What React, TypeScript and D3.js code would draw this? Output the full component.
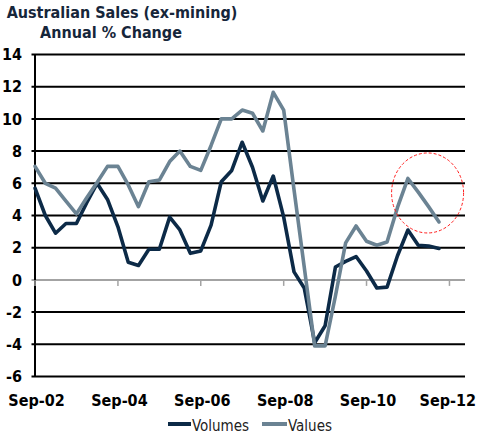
import React from "react";
import * as d3 from "d3";

const quarters = [
  "Sep-02","Dec-02","Mar-03","Jun-03","Sep-03","Dec-03","Mar-04","Jun-04",
  "Sep-04","Dec-04","Mar-05","Jun-05","Sep-05","Dec-05","Mar-06","Jun-06",
  "Sep-06","Dec-06","Mar-07","Jun-07","Sep-07","Dec-07","Mar-08","Jun-08",
  "Sep-08","Dec-08","Mar-09","Jun-09","Sep-09","Dec-09","Mar-10","Jun-10",
  "Sep-10","Dec-10","Mar-11","Jun-11","Sep-11","Dec-11","Mar-12","Jun-12",
];

const volumes = [
  5.7, 4.0, 2.9, 3.5, 3.5, 4.8, 6.0, 5.0,
  3.3, 1.1, 0.9, 1.9, 1.9, 3.9, 3.1, 1.65,
  1.8, 3.4, 6.1, 6.8, 8.55, 7.0, 4.9, 6.45,
  3.9, 0.5, -0.5, -3.9, -2.85, 0.8, 1.15, 1.45,
  0.55, -0.5, -0.45, 1.5, 3.1, 2.15, 2.1, 1.95,
];

const values = [
  7.05, 6.0, 5.7, 4.9, 4.1, 5.1, 6.05, 7.05,
  7.05, 5.9, 4.55, 6.1, 6.2, 7.35, 8.0, 7.05,
  6.8, 8.35, 10.0, 10.0, 10.55, 10.35, 9.25, 11.65,
  10.55, 5.6, 0.8, -4.1, -4.1, -1.0, 2.3, 3.35,
  2.4, 2.15, 2.35, 4.5, 6.3, 5.45, 4.55, 3.6,
];

const xTickLabels = ["Sep-02", "Sep-04", "Sep-06", "Sep-08", "Sep-10", "Sep-12"];
const yTicks = [-6, -4, -2, 0, 2, 4, 6, 8, 10, 12, 14];
const titleLines = ["Australian Sales (ex-mining)", "Annual % Change"];
const seriesNames = ["Volumes", "Values"];
const seriesColors = ["#0c2a47", "#6b8393"];

const parse = d3.timeParse("%b-%y");

export default function App() {
  const W = 477;
  const H = 440;
  const left = 35;
  const right = 465;
  const top = 54.5;
  const bottom = 376.5;

  const x = d3
    .scaleTime()
    .domain([parse("Sep-02") as Date, new Date(2013, 0, 16)])
    .range([left, right]);
  const y = d3.scaleLinear().domain([-6, 14]).range([bottom, top]);

  const dates = quarters.map((q) => parse(q) as Date);
  const line = d3
    .line<number>()
    .x((_, i) => x(dates[i]))
    .y((v) => y(v));

  const labelFont = "'DejaVu Sans Condensed', 'DejaVu Sans', sans-serif";

  return (
    <svg
      width={W}
      height={H}
      style={{ position: "absolute", left: 0, top: 0, background: "#fff" }}
    >
      {/* title */}
      <text
        x={122}
        y={18}
        textAnchor="middle"
        fontFamily={labelFont}
        fontWeight="bold"
        fontSize={16}
        fill="#16263a"
      >
        {titleLines[0]}
      </text>
      <text
        x={111}
        y={38}
        textAnchor="middle"
        fontFamily={labelFont}
        fontWeight="bold"
        fontSize={16}
        fill="#16263a"
      >
        {titleLines[1]}
      </text>

      {/* gridlines */}
      {yTicks.map((t) => (
        <g key={t}>
          <line
            x1={left - 3.5}
            x2={right}
            y1={y(t)}
            y2={y(t)}
            stroke={t === 0 ? "#a3a3a3" : "#000"}
            strokeWidth={2}
          />
          <text
            x={22}
            y={y(t)}
            dy="0.36em"
            textAnchor="end"
            fontFamily={labelFont}
            fontWeight="bold"
            fontSize={16}
            fill="#000"
          >
            {t}
          </text>
        </g>
      ))}

      {/* y axis */}
      <line x1={left} x2={left} y1={top} y2={bottom} stroke="#000" strokeWidth={2} />

      {/* x ticks on zero line and labels */}
      {xTickLabels.map((lab, i) => {
        const xx = x(parse(lab) as Date);
        const last = i === xTickLabels.length - 1;
        return (
          <g key={lab}>
            <line
              x1={xx}
              x2={xx}
              y1={y(0)}
              y2={y(0) + 6}
              stroke="#a3a3a3"
              strokeWidth={1.5}
            />
            <text
              x={last ? W - 1 : xx + 1.5}
              y={406}
              textAnchor={last ? "end" : "middle"}
              fontFamily={labelFont}
              fontWeight="bold"
              fontSize={16}
              fill="#000"
            >
              {lab}
            </text>
          </g>
        );
      })}

      {/* series */}
      {[volumes, values].map((s, k) => (
        <path
          key={k}
          d={line(s) || ""}
          fill="none"
          stroke={seriesColors[k]}
          strokeWidth={3.6}
          strokeLinejoin="round"
          strokeLinecap="round"
        />
      ))}

      {/* annotation circle */}
      <ellipse
        cx={x(parse("Mar-12") as Date) - 1}
        cy={y(5.4)}
        rx={36}
        ry={40}
        fill="none"
        stroke="#ff1a1a"
        strokeWidth={1}
        strokeDasharray="3,2"
      />

      {/* legend */}
      <g>
        <line x1={168} x2={191} y1={424} y2={424} stroke={seriesColors[0]} strokeWidth={4} />
        <text x={192} y={431} fontFamily={labelFont} fontSize={15} fill="#222">
          {seriesNames[0]}
        </text>
        <line x1={262} x2={287} y1={424} y2={424} stroke={seriesColors[1]} strokeWidth={4} />
        <text x={288} y={431} fontFamily={labelFont} fontSize={15} fill="#222">
          {seriesNames[1]}
        </text>
      </g>
    </svg>
  );
}
